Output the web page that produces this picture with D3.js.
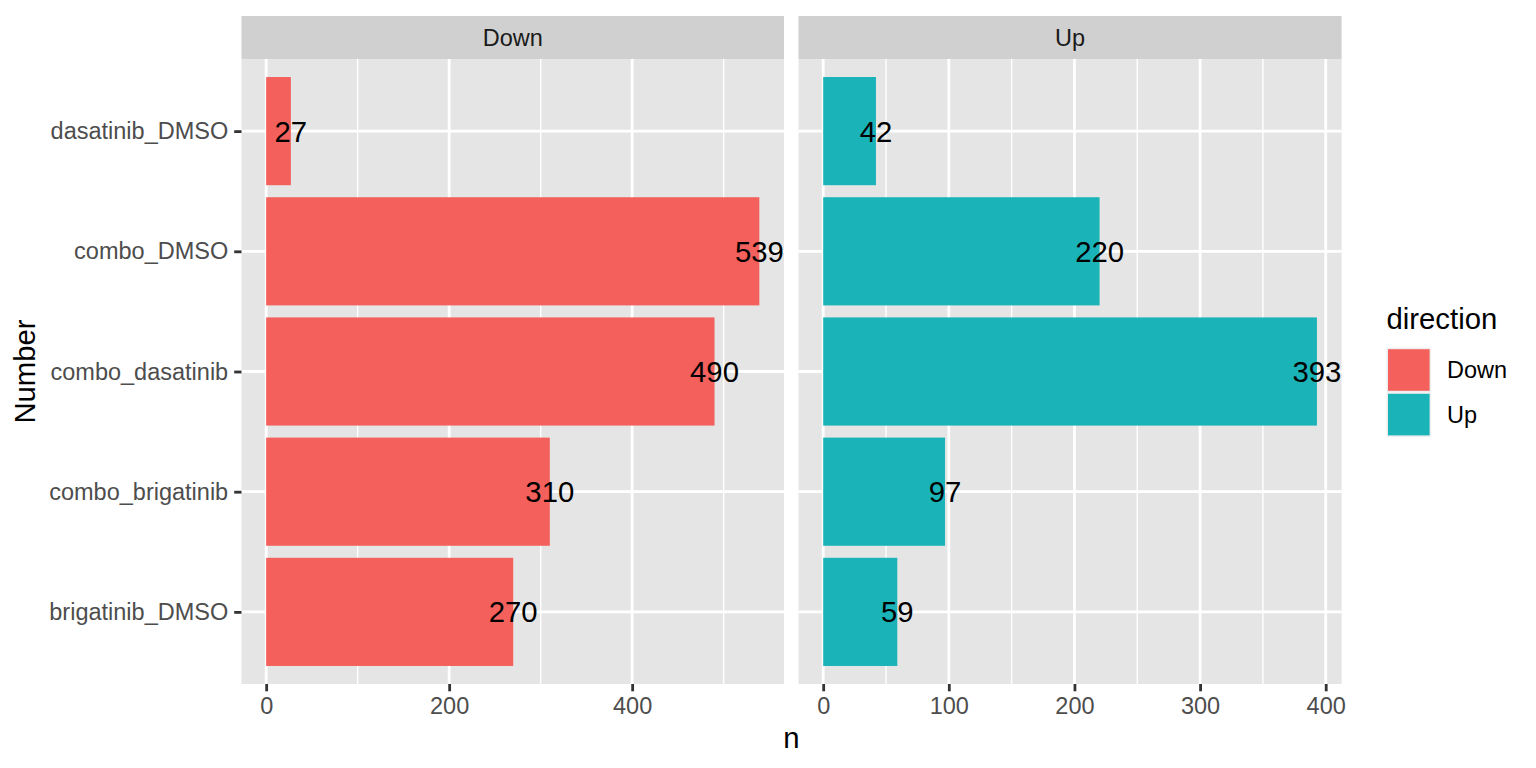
<!DOCTYPE html>
<html><head><meta charset="utf-8">
<script src="https://cdn.jsdelivr.net/npm/d3@7"></script>
<style>body{margin:0;background:#fff}svg{display:block}text{font-family:"Liberation Sans",Arial,Helvetica,sans-serif}</style>
</head><body><svg id="c" width="1536" height="768"></svg>
<script>
// Data (top-to-bottom display order)
const categories = ["dasatinib_DMSO","combo_DMSO","combo_dasatinib","combo_brigatinib","brigatinib_DMSO"];
const downValues = [27,539,490,310,270];
const upValues = [42,220,393,97,59];
const facets = ["Down","Up"];
const downTicks = [0,200,400];
const downMinor = [100,300,500];
const upTicks = [0,100,200,300,400];
const upMinor = [50,150,250,350];
const colors = {Down:"#F4615C", Up:"#1AB3B8"};

const svg = d3.select("#c");
const panelTop = 59, panelBottom = 684, stripTop = 16;
const panels = [
  {name:"Down", values:downValues, ticks:downTicks, minor:downMinor, x0:241.5, x1:784},
  {name:"Up", values:upValues, ticks:upTicks, minor:upMinor, x0:798.5, x1:1341.6}
];
const y = d3.scalePoint().domain(categories).range([panelTop, panelBottom]).padding(0.6);
const bw = y.step()*0.9;

panels.forEach(p => {
  const mx = d3.max(p.values);
  const x = d3.scaleLinear().domain([-0.05*mx, 1.05*mx]).range([p.x0, p.x1]);
  const g = svg.append("g");
  // strip
  g.append("rect").attr("x",p.x0).attr("y",stripTop).attr("width",p.x1-p.x0).attr("height",panelTop-stripTop).attr("fill","#D0D0D0");
  g.append("text").attr("x",(p.x0+p.x1)/2).attr("y",46).attr("text-anchor","middle").attr("font-size",23.5).attr("fill","#1A1A1A").text(p.name);
  // panel
  g.append("rect").attr("x",p.x0).attr("y",panelTop).attr("width",p.x1-p.x0).attr("height",panelBottom-panelTop).attr("fill","#E5E5E5");
  g.selectAll(".mn").data(p.minor).join("line").attr("x1",d=>x(d)).attr("x2",d=>x(d)).attr("y1",panelTop).attr("y2",panelBottom).attr("stroke","#fff").attr("stroke-width",1.4);
  g.selectAll(".mj").data(p.ticks).join("line").attr("x1",d=>x(d)).attr("x2",d=>x(d)).attr("y1",panelTop).attr("y2",panelBottom).attr("stroke","#fff").attr("stroke-width",2.8);
  g.selectAll(".hy").data(categories).join("line").attr("x1",p.x0).attr("x2",p.x1).attr("y1",d=>y(d)).attr("y2",d=>y(d)).attr("stroke","#fff").attr("stroke-width",2.8);
  // bars
  g.selectAll(".bar").data(p.values).join("rect").attr("x",x(0)).attr("y",(d,i)=>y(categories[i])-bw/2).attr("width",d=>x(d)-x(0)).attr("height",bw).attr("fill",colors[p.name]);
  // labels
  g.selectAll(".lab").data(p.values).join("text").attr("x",d=>x(d)).attr("y",(d,i)=>y(categories[i])).attr("dy","0.36em").attr("text-anchor","middle").attr("font-size",29.3).attr("fill","#000").text(d=>d);
  // x axis
  const ax = d3.axisBottom(x).tickValues(p.ticks).tickSize(7.3).tickPadding(6).tickFormat(d3.format("d"));
  const axg = svg.append("g").attr("transform",`translate(0,${panelBottom})`).call(ax);
  axg.select(".domain").remove();
  axg.selectAll(".tick line").attr("stroke","#333").attr("stroke-width",2.8);
  axg.selectAll(".tick text").attr("font-size",23.5).attr("fill","#4D4D4D").attr("font-family","Liberation Sans, Arial, sans-serif");
});

// y axis
const ay = d3.axisLeft(y).tickSize(7.3).tickPadding(6);
const ayg = svg.append("g").attr("transform",`translate(241.5,0)`).call(ay);
ayg.select(".domain").remove();
ayg.selectAll(".tick line").attr("stroke","#333").attr("stroke-width",2.8);
ayg.selectAll(".tick text").attr("font-size",23.5).attr("fill","#4D4D4D").attr("font-family","Liberation Sans, Arial, sans-serif");

// axis titles
svg.append("text").attr("x",791.5).attr("y",748).attr("text-anchor","middle").attr("font-size",29.3).attr("fill","#000").text("n");
svg.append("text").attr("transform","translate(35,371.5) rotate(-90)").attr("text-anchor","middle").attr("font-size",29.3).attr("fill","#000").text("Number");

// legend
const lg = svg.append("g");
lg.append("text").attr("x",1386.5).attr("y",329).attr("font-size",29.3).attr("fill","#000").text("direction");
facets.forEach((f,i) => {
  const ky = 347.7 + i*44.6;
  lg.append("rect").attr("x",1386.5).attr("y",ky).attr("width",44.6).attr("height",44.6).attr("fill","#EEEEEE");
  lg.append("rect").attr("x",1388).attr("y",ky+1.5).attr("width",41.6).attr("height",41.6).attr("fill",colors[f]);
  lg.append("text").attr("x",1447).attr("y",ky+22.3).attr("dy","0.36em").attr("font-size",23.5).attr("fill","#000").text(f);
});
</script></body></html>
